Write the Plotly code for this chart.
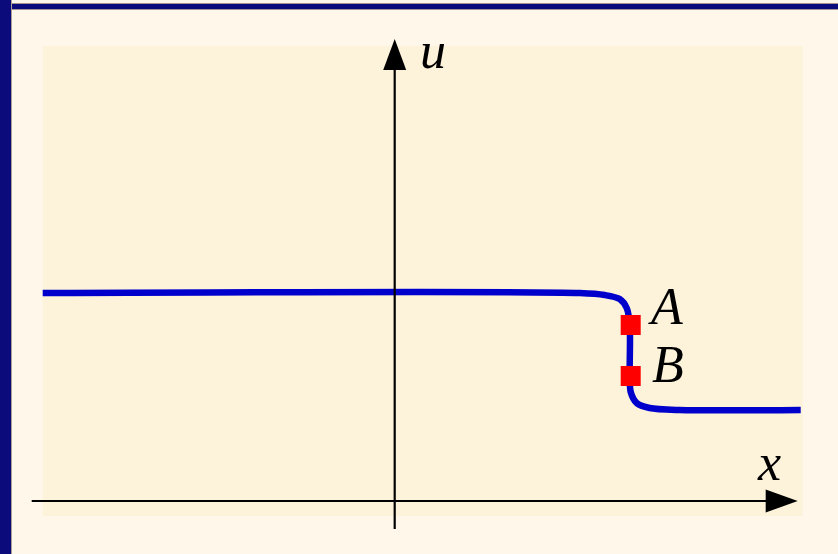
import plotly.graph_objects as go

# Smoothed shock profile u(x): left state, steep front, right state
x_curve = [-3.52, 1.85, 2.10, 2.25, 2.32, 2.35, 2.35, 2.36, 2.42, 2.55, 2.85, 4.06]
u_curve = [2.08, 2.08, 2.06, 2.02, 1.93, 1.76, 1.25, 1.09, 0.98, 0.93, 0.91, 0.91]

# Marked points on the front
pt_labels = ["A", "B"]
pt_x = [2.36, 2.36]
pt_u = [1.76, 1.25]
pt_xshift = [15, 19]
pt_yshift = [19, 12]

W, H = 838, 554
# pixel position of the origin and scale (px per unit)
OX, OY, S = 394.7, 501.0, 100.0
x_range = [-OX / S, (W - OX) / S]
y_range = [-(H - OY) / S, OY / S]

NAVY = "#0b0b7c"
TAN = "#d8c29a"
OUTER = "#fff8ea"
INNER = "#fdf2da"
BLUE = "#0000cc"

fig = go.Figure()

fig.add_trace(go.Scatter(
    x=x_curve, y=u_curve, mode="lines",
    line=dict(color=BLUE, width=6.5, shape="spline", smoothing=0.8),
    hoverinfo="skip", showlegend=False,
))
fig.add_trace(go.Scatter(
    x=pt_x, y=pt_u, mode="markers",
    marker=dict(symbol="square", size=20, color="#ff0000", line=dict(width=0)),
    hoverinfo="skip", showlegend=False,
))

shapes = []
# inner panel
shapes.append(dict(type="rect", xref="x", yref="y", x0=-3.52, x1=4.08, y0=-0.15, y1=4.55,
                   fillcolor=INNER, line=dict(width=0), layer="below"))
# axes
shapes.append(dict(type="line", xref="x", yref="y", x0=-3.63, x1=3.75, y0=0, y1=0,
                   line=dict(color="black", width=2.2)))
shapes.append(dict(type="line", xref="x", yref="y", x0=0, x1=0, y0=-0.28, y1=4.35,
                   line=dict(color="black", width=2.2)))
# arrow heads
shapes.append(dict(type="path", xref="x", yref="y",
                   path="M 3.71,-0.115 L 4.03,0 L 3.71,0.115 Z",
                   fillcolor="black", line=dict(width=0)))
shapes.append(dict(type="path", xref="x", yref="y",
                   path="M -0.115,4.31 L 0,4.62 L 0.115,4.31 Z",
                   fillcolor="black", line=dict(width=0)))


def px(v):
    return v / W


def py(v):
    return 1 - v / H


# frame bars
shapes.append(dict(type="rect", xref="paper", yref="paper", x0=0, x1=1, y0=py(10), y1=py(3),
                   fillcolor=TAN, line=dict(width=0), layer="above"))
shapes.append(dict(type="rect", xref="paper", yref="paper", x0=0, x1=1, y0=py(9.3), y1=py(3.7),
                   fillcolor=NAVY, line=dict(width=0), layer="above"))
shapes.append(dict(type="rect", xref="paper", yref="paper", x0=0, x1=px(12), y0=0, y1=1,
                   fillcolor=TAN, line=dict(width=0), layer="above"))
shapes.append(dict(type="rect", xref="paper", yref="paper", x0=0, x1=px(11.2), y0=0, y1=1,
                   fillcolor=NAVY, line=dict(width=0), layer="above"))

FONT = dict(family="Liberation Serif", size=52, color="black")
annotations = [
    dict(x=(433 - OX) / S, y=(OY - 50) / S, text="<i>u</i>", showarrow=False, font=FONT,
         xanchor="center", yanchor="middle"),
    dict(x=(769 - OX) / S, y=(OY - 462) / S, text="<i>x</i>", showarrow=False, font=FONT,
         xanchor="center", yanchor="middle"),
]
for lab, xv, uv, xs, ys in zip(pt_labels, pt_x, pt_u, pt_xshift, pt_yshift):
    annotations.append(dict(x=xv, y=uv, text=f"<i>{lab}</i>", showarrow=False, font=FONT,
                            xanchor="left", yanchor="middle", xshift=xs, yshift=ys))

fig.update_layout(
    width=W, height=H,
    margin=dict(l=0, r=0, t=0, b=0),
    paper_bgcolor=OUTER, plot_bgcolor="rgba(0,0,0,0)",
    xaxis=dict(range=x_range, visible=False, fixedrange=True),
    yaxis=dict(range=y_range, visible=False, fixedrange=True),
    shapes=shapes, annotations=annotations,
)

fig.write_html("out.html")
